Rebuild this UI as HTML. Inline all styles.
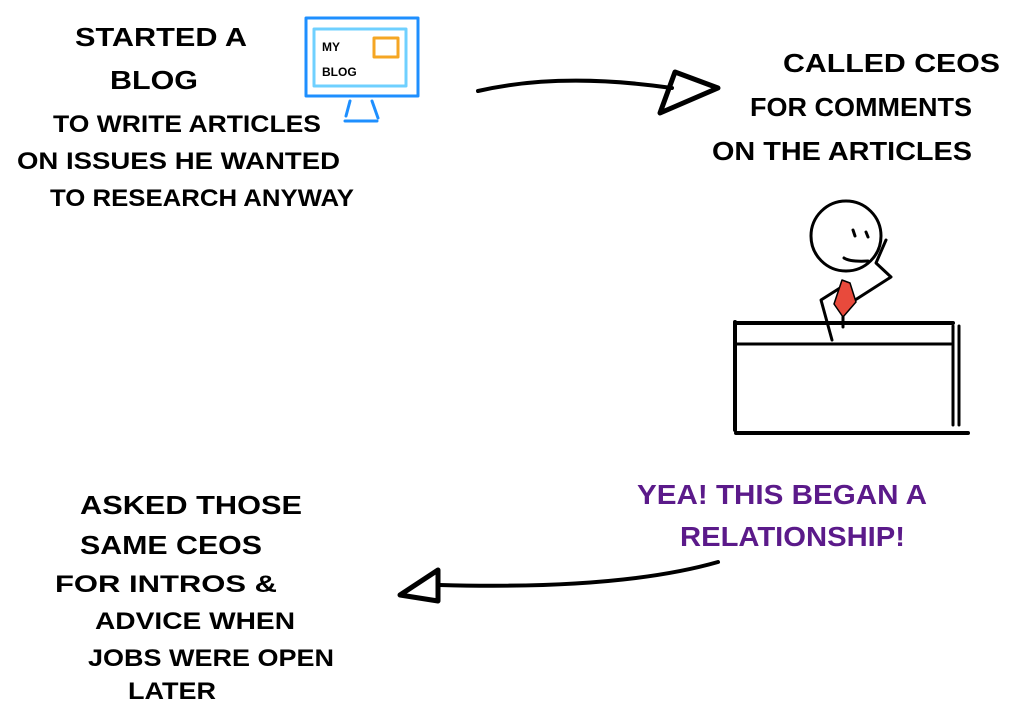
<!DOCTYPE html>
<html><head><meta charset="utf-8"><style>
html,body{margin:0;padding:0;background:#fff;}
svg{display:block;}
text{font-family:"Liberation Sans",sans-serif;font-size:26px;fill:#000;font-weight:bold;}
.s{font-size:24px;}
.p{fill:#5b1a8a;font-size:28px;}
</style></head><body>
<svg width="1024" height="705" viewBox="0 0 1024 705">
<g stroke-linecap="round" stroke-linejoin="round" fill="none">
<rect x="306" y="18" width="112" height="78" stroke="#1e8fff" stroke-width="3"/>
<rect x="314" y="29" width="92" height="57" stroke="#6fd0ff" stroke-width="3"/>
<rect x="374" y="38" width="24" height="19" stroke="#f5a623" stroke-width="3"/>
<line x1="350" y1="101" x2="346" y2="116" stroke="#1e8fff" stroke-width="3"/>
<line x1="372" y1="101" x2="378" y2="118" stroke="#1e8fff" stroke-width="3"/>
<line x1="345" y1="121" x2="377" y2="121" stroke="#1e8fff" stroke-width="3"/>
<path d="M478,91 Q560,72 672,88" stroke="#000" stroke-width="4"/>
<path d="M675,72 L718,88 L660,113 Z" stroke="#000" stroke-width="5"/>
<path d="M718,562 Q620,590 440,585" stroke="#000" stroke-width="4"/>
<path d="M438,570 L400,595 L438,601 Z" stroke="#000" stroke-width="5"/>
<circle cx="846" cy="236" r="35" stroke="#000" stroke-width="3"/>
<line x1="853" y1="230" x2="855" y2="236" stroke="#000" stroke-width="3"/>
<line x1="866" y1="232" x2="868" y2="237" stroke="#000" stroke-width="3"/>
<path d="M844,258 Q850,262 868,261" stroke="#000" stroke-width="3"/>
<path d="M886,240 L876,263 L891,277 L852,302" stroke="#000" stroke-width="3"/>
<path d="M840,288 L821,300 L832,340" stroke="#000" stroke-width="3"/>
<path d="M842,280 L850,283 L856,302 L843,317 L834,304 Z" fill="#e84a3c" stroke="#000" stroke-width="1.5"/>
<line x1="843" y1="317" x2="843" y2="327" stroke="#000" stroke-width="3"/>
<line x1="735" y1="323" x2="953" y2="323" stroke="#000" stroke-width="4"/>
<line x1="736" y1="344" x2="951" y2="344" stroke="#000" stroke-width="3"/>
<line x1="735" y1="322" x2="735" y2="430" stroke="#000" stroke-width="4"/>
<line x1="953" y1="326" x2="953" y2="425" stroke="#000" stroke-width="3"/>
<line x1="959" y1="326" x2="959" y2="425" stroke="#000" stroke-width="3"/>
<line x1="736" y1="433" x2="968" y2="433" stroke="#000" stroke-width="4"/>
</g>
<text x="322" y="51" style="font-size:12px">MY</text>
<text x="322" y="76" style="font-size:12px">BLOG</text>

<text x="75" y="46" textLength="172" lengthAdjust="spacingAndGlyphs">STARTED A</text>
<text x="110" y="89" textLength="88" lengthAdjust="spacingAndGlyphs">BLOG</text>
<text class="s" x="53" y="132" textLength="268" lengthAdjust="spacingAndGlyphs">TO WRITE ARTICLES</text>
<text class="s" x="17" y="169" textLength="323" lengthAdjust="spacingAndGlyphs">ON ISSUES HE WANTED</text>
<text class="s" x="50" y="206" textLength="304" lengthAdjust="spacingAndGlyphs">TO RESEARCH ANYWAY</text>

<text x="783" y="72" textLength="217" lengthAdjust="spacingAndGlyphs">CALLED CEOS</text>
<text x="750" y="116" textLength="222" lengthAdjust="spacingAndGlyphs">FOR COMMENTS</text>
<text x="712" y="160" textLength="260" lengthAdjust="spacingAndGlyphs">ON THE ARTICLES</text>

<text class="p" x="637" y="504" textLength="290" lengthAdjust="spacingAndGlyphs">YEA! THIS BEGAN A</text>
<text class="p" x="680" y="546" textLength="225" lengthAdjust="spacingAndGlyphs">RELATIONSHIP!</text>

<text x="80" y="514" textLength="222" lengthAdjust="spacingAndGlyphs">ASKED THOSE</text>
<text x="80" y="554" textLength="182" lengthAdjust="spacingAndGlyphs">SAME CEOS</text>
<text class="s" x="55" y="592" textLength="222" lengthAdjust="spacingAndGlyphs">FOR INTROS &amp;</text>
<text class="s" x="95" y="629" textLength="200" lengthAdjust="spacingAndGlyphs">ADVICE WHEN</text>
<text class="s" x="88" y="666" textLength="246" lengthAdjust="spacingAndGlyphs">JOBS WERE OPEN</text>
<text class="s" x="128" y="699" textLength="88" lengthAdjust="spacingAndGlyphs">LATER</text>
</svg>
</body></html>
